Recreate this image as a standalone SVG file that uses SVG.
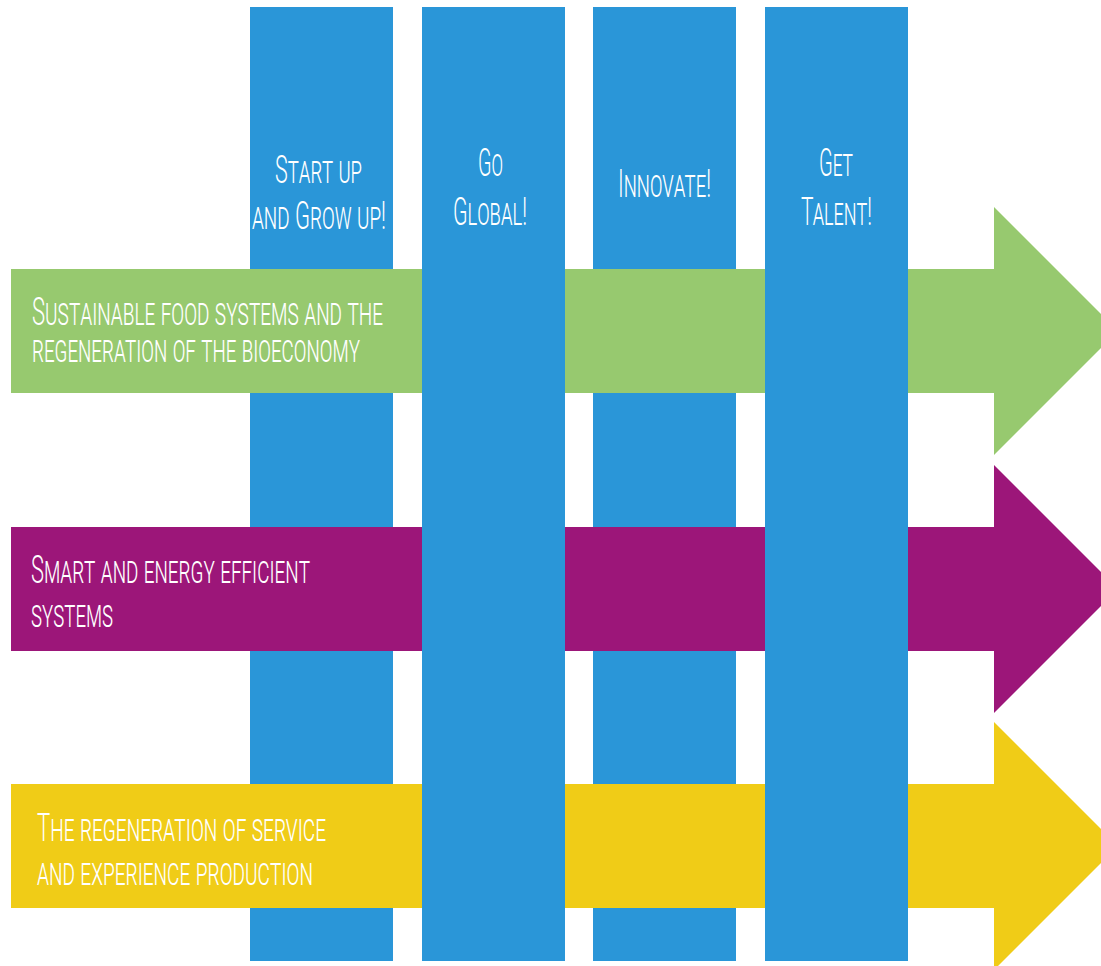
<svg xmlns="http://www.w3.org/2000/svg" width="1101" height="966" viewBox="0 0 1101 966">
<style>
.col{fill:#2a96d8}
.t{fill:#ffffff;font-family:Roboto,"Liberation Sans",sans-serif;font-weight:300;font-size:38px;font-variant:small-caps}
</style>
<rect x="0" y="0" width="1101" height="966" fill="#ffffff"/>
<g id="col-startup"><rect class="col" x="250" y="7" width="143" height="954"/>
<text class="t"><tspan x="275" y="183" textLength="87" lengthAdjust="spacingAndGlyphs">Start up</tspan><tspan x="252" y="229" textLength="134" lengthAdjust="spacingAndGlyphs">and Grow up!</tspan></text></g>
<g id="col-innovate"><rect class="col" x="593" y="7" width="143" height="954"/>
<text class="t"><tspan x="618" y="197" textLength="93" lengthAdjust="spacingAndGlyphs">Innovate!</tspan></text></g>
<g id="connectors">
<g id="arrow-food"><path d="M11 269 H994 V207 L1118 331 L994 455 V393 H11 Z" fill="#97c96f"/>
<text class="t"><tspan x="32" y="325" textLength="351" lengthAdjust="spacingAndGlyphs">Sustainable food systems and the</tspan><tspan x="32" y="362" textLength="328" lengthAdjust="spacingAndGlyphs">regeneration of the bioeconomy</tspan></text></g>
<g id="arrow-smart"><path d="M11 527 H994 V465 L1118 589 L994 713 V651 H11 Z" fill="#9c1679"/>
<text class="t"><tspan x="31" y="583" textLength="279" lengthAdjust="spacingAndGlyphs">Smart and energy efficient</tspan><tspan x="31" y="627" textLength="82" lengthAdjust="spacingAndGlyphs">systems</tspan></text></g>
<g id="arrow-service"><path d="M11 784 H994 V722 L1118 846 L994 970 V908 H11 Z" fill="#f0cc17"/>
<text class="t"><tspan x="37" y="841" textLength="289" lengthAdjust="spacingAndGlyphs">The regeneration of service</tspan><tspan x="37" y="885" textLength="276" lengthAdjust="spacingAndGlyphs">and experience production</tspan></text></g>
</g>
<g id="col-global"><rect class="col" x="422" y="7" width="143" height="954"/>
<text class="t"><tspan x="478" y="176" textLength="25" lengthAdjust="spacingAndGlyphs">Go</tspan><tspan x="453" y="225" textLength="74" lengthAdjust="spacingAndGlyphs">Global!</tspan></text></g>
<g id="col-talent"><rect class="col" x="765" y="7" width="143" height="954"/>
<text class="t"><tspan x="819" y="176" textLength="34" lengthAdjust="spacingAndGlyphs">Get</tspan><tspan x="801" y="225" textLength="71" lengthAdjust="spacingAndGlyphs">Talent!</tspan></text></g>
</svg>
